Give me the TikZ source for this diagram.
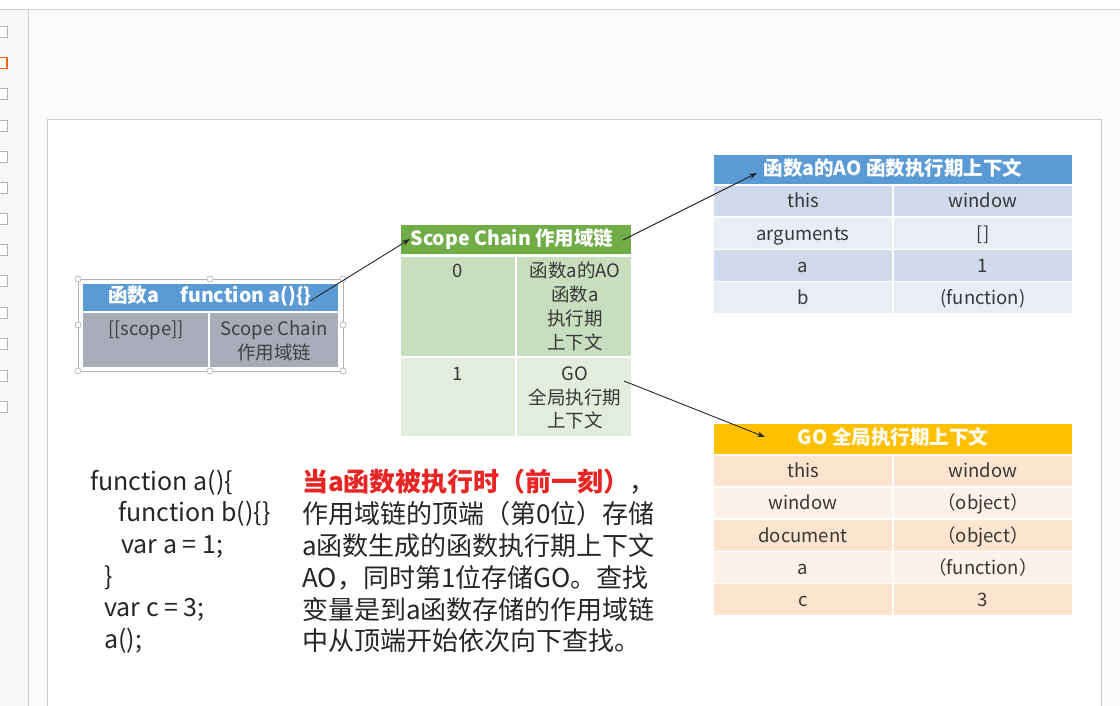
\documentclass[tikz,border=0pt]{standalone}
\usepackage{fontspec}
\setmainfont{Noto Sans CJK SC}
\usetikzlibrary{arrows.meta}
\definecolor{hdblue}{RGB}{91,155,213}
\definecolor{hdgreen}{RGB}{112,173,71}
\definecolor{hdgold}{RGB}{255,192,0}
\definecolor{bodygray}{RGB}{168,172,185}
\definecolor{grdark}{RGB}{201,222,191}
\definecolor{grlight}{RGB}{226,237,221}
\definecolor{bldark}{RGB}{208,218,234}
\definecolor{bllight}{RGB}{233,238,246}
\definecolor{ordark}{RGB}{252,228,207}
\definecolor{orlight}{RGB}{253,242,234}
\definecolor{txt}{RGB}{55,55,55}
\definecolor{redtxt}{RGB}{232,36,36}
\definecolor{uiline}{RGB}{205,205,205}
\tikzset{
  cell/.style={draw=white, line width=1.4pt, inner sep=0pt, anchor=center},
  tt/.style={inner sep=0pt, yshift=-4pt, text=txt, font=\fontsize{18.5}{22}\selectfont, text height=0.75em, text depth=0.2em},
  ht/.style={inner sep=0pt, yshift=-3pt, text=white, font=\fontsize{19.5}{22}\selectfont\bfseries, text height=0.75em, text depth=0.2em},
  code/.style={inner sep=0pt, yshift=-6pt, anchor=west, text=black!85, font=\fontsize{25}{30}\selectfont, text height=0.75em, text depth=0.2em},
  para/.style={inner sep=0pt, yshift=-5pt, anchor=west, text=black!85, font=\fontsize{26}{30}\selectfont, text height=0.75em, text depth=0.2em},
  conn/.style={draw=black!85, line width=0.9pt, -{Stealth[length=8pt,width=5.5pt]}},
  handle/.style={circle, draw=black!35, fill=white, line width=0.5pt, inner sep=0pt, minimum size=6pt},
  thumb/.style={draw=black!30, fill=white, line width=0.6pt, inner sep=0pt, minimum width=12pt, minimum height=11pt}
}
\begin{document}
\begin{tikzpicture}[x=1pt,y=-1pt]
\useasboundingbox (0,0) rectangle (1120,706);
% UI chrome
\fill[black!3] (0,0) rectangle (1120,706);
\fill[white] (0,0) rectangle (1120,9);
\draw[uiline] (0,9.5) -- (1120,9.5);
\draw[uiline] (28,9.5) -- (28,706);
\fill[black!1.5] (28.5,10) rectangle (1120,706);
\foreach \y in {32,94,126,157,188,219,250,281,313,344,376,407} {
  \node[thumb] at (1,\y) {};
}
\node[thumb, draw=orange!80!red, line width=1.2pt] at (1,63) {};
% slide
\draw[uiline, fill=white, line width=0.8pt] (47,706.5) -- (47,119) -- (1101,119) -- (1101,706.5);

% ---------- Table 1 : function a ----------
\draw[black!30, line width=0.6pt] (78,279) rectangle (343,371);
\node[cell, fill=hdblue, minimum width=257pt, minimum height=29pt] (t1h) at (210.5,297.5) {};
\node[cell, fill=bodygray, minimum width=127pt, minimum height=55pt] (t1l) at (145.5,340) {};
\node[cell, fill=bodygray, minimum width=130pt, minimum height=55pt] (t1r) at (274,340) {};
\node[ht] (t1ht) at (210,297) {函数a\hspace{1.1em}function a()\{\}};
\node[tt, text=black!75] (t1a) at (146,329) {[[scope]]};
\node[tt, text=black!75] (t1b) at (274,329) {Scope Chain};
\node[tt, text=black!75] (t1c) at (274,353) {作用域链};
\foreach \p/\n in {{(78,279)}/h1,{(210,279)}/h2,{(343,279)}/h3,{(78,325)}/h4,{(343,325)}/h5,{(78,371)}/h6,{(210,371)}/h7,{(343,371)}/h8} {
  \node[handle] (\n) at \p {};
}

% ---------- Table 2 : scope chain ----------
\node[cell, fill=hdgreen, minimum width=232pt, minimum height=31pt] (t2h) at (516,239.5) {};
\node[cell, fill=grdark, minimum width=116pt, minimum height=100pt] (t2a) at (458,306.5) {};
\node[cell, fill=grdark, minimum width=116pt, minimum height=100pt] (t2b) at (574,306.5) {};
\node[cell, fill=grlight, minimum width=116pt, minimum height=79pt] (t2c) at (458,397) {};
\node[cell, fill=grlight, minimum width=116pt, minimum height=79pt] (t2d) at (574,397) {};
\node[ht] (t2ht) at (512,240) {Scope Chain 作用域链};
\node[tt] (t2z) at (458,271) {0};
\node[tt] (t2r1) at (575,271) {函数a的AO};
\node[tt] (t2r2) at (575,295) {函数a};
\node[tt] (t2r3) at (575,319) {执行期};
\node[tt] (t2r4) at (575,343) {上下文};
\node[tt] (t2o) at (458,374) {1};
\node[tt] (t2s1) at (575,374) {GO};
\node[tt] (t2s2) at (575,398) {全局执行期};
\node[tt] (t2s3) at (575,421) {上下文};

% ---------- Table 3 : AO ----------
\node[cell, fill=hdblue, minimum width=360pt, minimum height=30pt] (t3h) at (893,169.5) {};
\node[ht] (t3ht) at (893,170) {函数a的AO 函数执行期上下文};
\foreach \i/\yy/\cl/\l/\r in {1/201/bldark/this/window, 2/233.5/bllight/arguments/[], 3/265.5/bldark/a/1, 4/297.5/bllight/b/(function)} {
  \node[cell, fill=\cl, minimum width=180pt, minimum height=32pt] (t3l\i) at (803,\yy) {};
  \node[cell, fill=\cl, minimum width=180pt, minimum height=32pt] (t3r\i) at (983,\yy) {};
  \node[tt] (t3lt\i) at (803,\yy) {\l};
  \node[tt] (t3rt\i) at (983,\yy) {\r};
}

% ---------- Table 4 : GO ----------
\node[cell, fill=hdgold, minimum width=360pt, minimum height=31pt] (t4h) at (893,439) {};
\node[ht] (t4ht) at (893,439) {GO 全局执行期上下文};
\foreach \i/\yy/\cl/\l/\r in {1/471/ordark/this/window, 2/503/orlight/window/（object）, 3/535.5/ordark/document/（object）, 4/567.5/orlight/a/（function）, 5/599.5/ordark/c/3} {
  \node[cell, fill=\cl, minimum width=180pt, minimum height=32pt] (t4l\i) at (803,\yy) {};
  \node[cell, fill=\cl, minimum width=180pt, minimum height=32pt] (t4r\i) at (983,\yy) {};
  \node[tt] (t4lt\i) at (803,\yy) {\l};
  \node[tt] (t4rt\i) at (983,\yy) {\r};
}

% ---------- connectors ----------
\coordinate (a1s) at (310,301);
\coordinate (a1e) at (410,239);
\coordinate (a2s) at (623,240);
\coordinate (a2e) at (757,173);
\coordinate (a3s) at (624,381);
\coordinate (a3e) at (765,437);
\draw[conn] (a1s) -- (a1e);
\draw[conn] (a2s) -- (a2e);
\draw[conn] (a3s) -- (a3e);

% ---------- code ----------
\node[code] (c1) at (90,482) {function a()\{};
\node[code] (c2) at (118,513) {function b()\{\}};
\node[code] (c3) at (121,545) {var a = 1;};
\node[code] (c4) at (104,577) {\}};
\node[code] (c5) at (104,608) {var c = 3;};
\node[code] (c6) at (104,640) {a();};

% ---------- paragraph ----------
\node[para] (p1) at (302,484) {{\color{redtxt}\bfseries 当a函数被执行时（前一刻）}，};
\node[para] (p2) at (302,516) {作用域链的顶端（第0位）存储};
\node[para] (p3) at (302,548) {a函数生成的函数执行期上下文};
\node[para] (p4) at (302,580) {AO，同时第1位存储GO。查找};
\node[para] (p5) at (302,612) {变量是到a函数存储的作用域链};
\node[para] (p6) at (302,643) {中从顶端开始依次向下查找。};
\end{tikzpicture}
\end{document}
